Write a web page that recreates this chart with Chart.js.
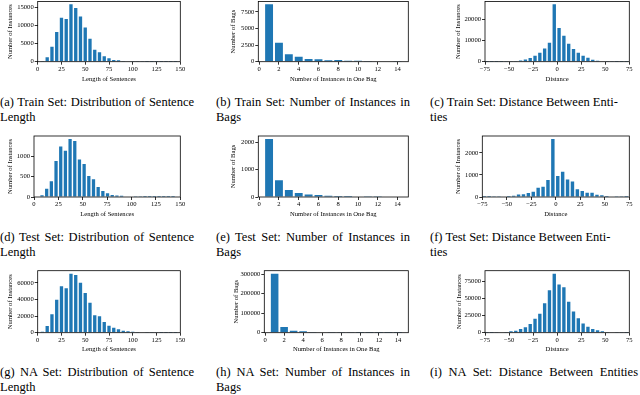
<!doctype html>
<html lang="en">
<head>
<meta charset="UTF-8">
<title>Dataset statistics</title>
<style>
  body { margin: 0; background: #fff; width: 640px; height: 395px; position: relative; overflow: hidden;
         font-family: "Liberation Serif", "DejaVu Serif", serif; }
  canvas { position: absolute; }
  .cap { position: absolute; font-size: 12.5px; line-height: 15px; color: #000; }
  .cap .l1 { width: 194px; text-align: justify; text-align-last: justify; white-space: nowrap; }
  .cap .wide { width: 208px; }
  .cap .nat { white-space: nowrap; }
</style>
</head>
<body>
<div class="cap" style="left:0px;top:94.5px"><div class="l1">(a) Train Set: Distribution of Sentence</div><div>Length</div></div>
<div class="cap" style="left:216px;top:94.5px"><div class="l1">(b) Train Set: Number of Instances in</div><div>Bags</div></div>
<div class="cap" style="left:430px;top:94.5px"><div class="nat">(c) Train Set: Distance Between Enti-</div><div>ties</div></div>
<div class="cap" style="left:0px;top:229.5px"><div class="l1">(d) Test Set: Distribution of Sentence</div><div>Length</div></div>
<div class="cap" style="left:216px;top:229.5px"><div class="l1">(e) Test Set: Number of Instances in</div><div>Bags</div></div>
<div class="cap" style="left:430px;top:229.5px"><div class="nat">(f) Test Set: Distance Between Enti-</div><div>ties</div></div>
<div class="cap" style="left:0px;top:364.5px"><div class="l1">(g) NA Set: Distribution of Sentence</div><div>Length</div></div>
<div class="cap" style="left:216px;top:364.5px"><div class="l1">(h) NA Set: Number of Instances in</div><div>Bags</div></div>
<div class="cap" style="left:430px;top:364.5px"><div class="l1 wide">(i) NA Set: Distance Between Entities</div></div>

<script src="https://cdn.jsdelivr.net/npm/chart.js@4.4.1/dist/chart.umd.min.js"></script>
<script>
// Data-----
// sentence length bins (centres) and counts
const lenX = [5, 10, 15, 20, 25, 30, 35, 40, 45, 50, 55, 60, 65, 70, 75, 80, 85, 90, 95, 100,
              105, 110, 115, 120, 125, 130, 135, 140, 145];
const lenTestX = [8.2, 13.0, 17.8, 22.6, 27.4, 32.2, 37.0, 41.8, 46.6, 51.4, 56.2, 61.0, 65.8, 70.6, 75.4,
                  80.2, 85.0, 89.8, 94.6, 99.4, 104.2, 109.0, 113.8, 118.6, 123.4, 128.2, 133.0, 137.8, 142.6];
const lenTrain = [200, 1200, 4100, 8200, 12100, 11800, 15800, 14800, 12450, 9400, 6300, 3300, 2600, 1500, 950,
                  500, 400, 200, 120, 80, 50, 30, 20, 15, 10, 5, 3, 2, 1];
const lenTest = [40, 205, 390, 885, 1240, 1140, 1430, 1380, 920, 810, 515, 435, 245, 150, 90,
                 50, 35, 30, 15, 10, 6, 4, 3, 2, 2, 1, 1, 1, 1];
const lenNA = [1200, 8100, 22300, 39700, 55900, 53500, 71000, 69300, 60000, 47800, 36100, 21100, 19900, 13000, 8500,
               6100, 4050, 2400, 1600, 1200, 800, 500, 300, 200, 100, 60, 40, 20, 10];

// instances per bag
const bagX = [1, 2, 3, 4, 5, 6, 7, 8, 9, 10, 11, 12, 13, 14];
const bagTrain = [8630, 2860, 1130, 740, 400, 350, 200, 250, 150, 130, 90, 80, 50, 40];
const bagTest = [2120, 610, 255, 145, 95, 70, 45, 40, 40, 20, 30, 30, 15, 15];
const bagNA = [303000, 29500, 10400, 7000, 3500, 2000, 1200, 800, 500, 350, 250, 200, 150, 100];

// distance between entities
const distX = [-73, -68, -63, -58, -53, -48, -43, -38, -33, -28, -23, -18, -13, -8, -3,
               2, 7, 12, 17, 22, 27, 32, 37, 42, 47, 52, 57, 62, 67, 72];
const distTrain = [3, 8, 15, 30, 70, 150, 300, 600, 1080, 1700, 2770, 4150, 6150, 8900, 26900,
                   15850, 12150, 8460, 6000, 4150, 2770, 1850, 920, 460, 200, 80, 40, 20, 10, 5];
const distTest = [2, 4, 8, 12, 20, 40, 55, 110, 120, 180, 240, 420, 470, 775, 2640,
                  955, 1150, 800, 700, 350, 270, 195, 190, 105, 75, 40, 25, 15, 8, 4];
const distNA = [40, 100, 250, 500, 1000, 2000, 3000, 5400, 7900, 12900, 20400, 27800, 43200, 62600, 86900,
                71000, 67000, 45700, 31300, 21400, 13400, 8900, 5500, 3500, 2000, 1000, 500, 250, 120, 50];

// tick labels
const lenTicks = [0, 25, 50, 75, 100, 125, 150];
const bagTicks = [0, 2, 4, 6, 8, 10, 12, 14];
const distTicks = [-75, -50, -25, 0, 25, 50, 75];
// Data-----

const FONT = { family: "'Liberation Serif', 'DejaVu Serif', serif", size: 6.6 };
const BLUE = '#1f77b4';

const frame = {
  id: 'frame',
  afterDatasetsDraw(c) {
    const a = c.chartArea, g = c.ctx;
    g.save();
    g.strokeStyle = '#000';
    g.lineWidth = 0.8;
    g.strokeRect(a.left, a.top, a.right - a.left, a.bottom - a.top);
    g.restore();
  }
};

const fmt = v => String(v).replace('-', '\u2212');

// box: L = canvas left, x0/x1/y0/y1 = plot area, yl = centre of x axis title
function panel(box, xs, ys, xr, xTicks, yTicks, xTitle, yTitle, frac) {
  const T = Math.floor(box.y0 - 5);
  const B = Math.ceil(box.yl + 4);
  const W = Math.ceil(box.x1 + 8) - box.L;
  const cv = document.createElement('canvas');
  cv.width = W; cv.height = B - T;
  cv.style.left = box.L + 'px';
  cv.style.top = T + 'px';
  document.body.appendChild(cv);

  const axis = {
    grid: { display: true, drawOnChartArea: false, drawTicks: true, tickLength: 3, color: '#000', lineWidth: 0.8, offset: false },
    border: { display: false },
    title: { display: true, font: FONT, color: '#000', padding: 0 }
  };

  new Chart(cv, {
    type: 'bar',
    data: {
      datasets: [{
        data: xs.map((x, i) => ({ x: x, y: ys[i] })),
        backgroundColor: BLUE,
        borderWidth: 0,
        barPercentage: 1,
        categoryPercentage: frac
      }]
    },
    options: {
      responsive: false,
      animation: false,
      events: [],
      layout: { padding: { top: box.y0 - T, right: box.L + W - box.x1, left: 0, bottom: 0 } },
      plugins: { legend: { display: false }, tooltip: { enabled: false } },
      scales: {
        x: {
          ...axis,
          type: 'linear', min: xr[0], max: xr[1], offset: false,
          title: { ...axis.title, text: xTitle },
          ticks: { font: FONT, color: '#000', padding: 0.5, maxRotation: 0, callback: fmt },
          afterBuildTicks(s) { s.ticks = xTicks.map(v => ({ value: v })); },
          afterFit(s) { s.height = B - box.y1; }
        },
        y: {
          ...axis,
          min: 0, max: Math.max(...ys) * 1.05,
          title: { ...axis.title, text: yTitle },
          ticks: { font: FONT, color: '#000', padding: 1, callback: fmt },
          afterBuildTicks(s) { s.ticks = yTicks.map(v => ({ value: v })); },
          afterFit(s) { s.width = box.x0 - box.L; }
        }
      }
    },
    plugins: [frame]
  });
}

const lenR = [0, 150], bagR = [-0.09, 15.09], distR = [-75, 75];

panel({ L: 6, x0: 37.7, x1: 180.3, y0: 1.5, y1: 61.7, yl: 79 }, lenX, lenTrain, lenR, lenTicks,
      [0, 5000, 10000, 15000], 'Length of Sentences', 'Number of Instances', 0.7);
panel({ L: 229, x0: 258.3, x1: 408.3, y0: 1.5, y1: 61.7, yl: 79 }, bagX, bagTrain, bagR, bagTicks,
      [0, 2500, 5000, 7500], 'Number of Instances in One Bag', 'Number of Bags', 0.8);
panel({ L: 454, x0: 485, x1: 629.3, y0: 1.5, y1: 61.7, yl: 79 }, distX, distTrain, distR, distTicks,
      [0, 10000, 20000], 'Distance', 'Number of Instances', 0.7);

panel({ L: 6, x0: 34, x1: 180.3, y0: 136, y1: 197, yl: 214 }, lenTestX, lenTest, lenR, lenTicks,
      [0, 500, 1000], 'Length of Sentences', 'Number of Instances', 0.7);
panel({ L: 229, x0: 258.3, x1: 408.3, y0: 136, y1: 197, yl: 214 }, bagX, bagTest, bagR, bagTicks,
      [0, 1000, 2000], 'Number of Instances in One Bag', 'Number of Bags', 0.8);
panel({ L: 454, x0: 482.3, x1: 629.3, y0: 136, y1: 197, yl: 214 }, distX, distTest, distR, distTicks,
      [0, 1000, 2000], 'Distance', 'Number of Instances', 0.7);

panel({ L: 6, x0: 37.7, x1: 180.3, y0: 270.7, y1: 332.7, yl: 349 }, lenX, lenNA, lenR, lenTicks,
      [0, 20000, 40000, 60000], 'Length of Sentences', 'Number of Instances', 0.7);
panel({ L: 232, x0: 264.3, x1: 408.3, y0: 270.7, y1: 332.7, yl: 348.5 }, bagX, bagNA, bagR, bagTicks,
      [0, 100000, 200000, 300000], 'Number of Instances in One Bag', 'Number of Bags', 0.8);
panel({ L: 455, x0: 485, x1: 629.3, y0: 270.7, y1: 332.7, yl: 349 }, distX, distNA, distR, distTicks,
      [0, 25000, 50000, 75000], 'Distance', 'Number of Instances', 0.7);
</script>
</body>
</html>
